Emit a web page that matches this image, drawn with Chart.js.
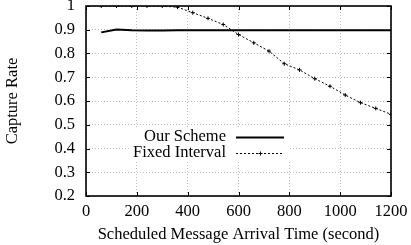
<!DOCTYPE html>
<html>
<head>
<meta charset="utf-8">
<script src="https://cdn.jsdelivr.net/npm/chart.js@4"></script>
<style>
html, body { margin: 0; padding: 0; background: #fff; }
#wrap { width: 411px; height: 245px; }
</style>
</head>
<body>
<div id="wrap"><canvas id="captureChart"></canvas></div>
<script>
// Datos
const arrivalTimes = [60, 120, 180, 240, 300, 360, 420, 480, 540, 600, 660, 720, 780, 840, 900, 960, 1020, 1080, 1140, 1200];
const ourScheme = [0.889, 0.901, 0.898, 0.897, 0.897, 0.898, 0.898, 0.898, 0.898, 0.898, 0.898, 0.898, 0.898, 0.898, 0.898, 0.898, 0.898, 0.898, 0.898, 0.898];
const fixedInterval = [1, 1, 1, 1, 1, 0.995, 0.972, 0.948, 0.922, 0.88, 0.845, 0.81, 0.757, 0.731, 0.694, 0.662, 0.625, 0.593, 0.569, 0.544];
const xTicks = [0, 200, 400, 600, 800, 1000, 1200];
const yTicks = [0.2, 0.3, 0.4, 0.5, 0.6, 0.7, 0.8, 0.9, 1];

const FONT = "'Liberation Serif', 'Times New Roman', serif";
const FSIZE = 16.5;

// marco, marcas hacia dentro y leyenda estilo gnuplot
const framePlugin = {
    id: 'frame',
    afterDatasetsDraw(chart) {
        const ctx = chart.ctx;
        const a = chart.chartArea;
        const xs = chart.scales.x, ys = chart.scales.y;
        ctx.save();
        ctx.strokeStyle = '#000';
        ctx.lineWidth = 1;
        ctx.beginPath();
        xTicks.forEach(v => {
            const px = Math.round(xs.getPixelForValue(v)) + 0.5;
            ctx.moveTo(px, a.bottom); ctx.lineTo(px, a.bottom - 4);
            ctx.moveTo(px, a.top); ctx.lineTo(px, a.top + 4);
        });
        yTicks.forEach(v => {
            const py = Math.round(ys.getPixelForValue(v)) + 0.5;
            ctx.moveTo(a.left, py); ctx.lineTo(a.left + 4, py);
            ctx.moveTo(a.right, py); ctx.lineTo(a.right - 4, py);
        });
        ctx.stroke();
        ctx.lineWidth = 1.6;
        ctx.strokeRect(a.left, a.top, a.right - a.left, a.bottom - a.top);

        // leyenda
        const textRight = a.left + 140;
        const lineL = a.left + 150, lineR = a.left + 198;
        const rows = [a.top + 131, a.top + 147];
        ctx.fillStyle = '#fff';
        ctx.fillRect(a.left + 44, rows[0] - 9, 160, 34);
        ctx.font = FSIZE + 'px ' + FONT;
        ctx.textAlign = 'right';
        ctx.textBaseline = 'middle';
        chart.data.datasets.forEach((ds, i) => {
            const y = rows[i];
            ctx.fillStyle = '#000';
            ctx.fillText(ds.label, textRight, y);
            ctx.strokeStyle = ds.borderColor;
            ctx.lineWidth = ds.borderWidth;
            ctx.setLineDash(ds.borderDash || []);
            ctx.beginPath();
            ctx.moveTo(lineL, y + 0.5); ctx.lineTo(lineR, y + 0.5);
            ctx.stroke();
            ctx.setLineDash([]);
            if (ds.pointRadius > 0) {
                const mx = (lineL + lineR) / 2 + 0.5;
                ctx.lineWidth = 1;
                ctx.beginPath();
                ctx.moveTo(mx - 2, y + 0.5); ctx.lineTo(mx + 2, y + 0.5);
                ctx.moveTo(mx, y - 1.5); ctx.lineTo(mx, y + 2.5);
                ctx.stroke();
            }
        });
        ctx.restore();
    }
};

const captureChart = new Chart(document.getElementById('captureChart'), {
    type: 'line',
    data: {
        labels: arrivalTimes,
        datasets: [{
            label: 'Our Scheme',
            data: ourScheme,
            borderColor: '#000',
            borderWidth: 2,
            pointRadius: 0,
            tension: 0
        }, {
            label: 'Fixed Interval',
            data: fixedInterval,
            borderColor: '#000',
            borderWidth: 1,
            borderDash: [2, 2],
            pointStyle: 'cross',
            pointRadius: 2,
            pointBorderColor: '#000',
            pointBorderWidth: 1,
            tension: 0
        }]
    },
    options: {
        responsive: true,
        maintainAspectRatio: false,
        animation: false,
        layout: { padding: { top: 6, right: 20, left: 0, bottom: 0 } },
        plugins: {
            legend: { display: false },
            tooltip: { enabled: false }
        },
        scales: {
            x: {
                type: 'linear',
                min: 0,
                max: 1200,
                afterBuildTicks: s => { s.ticks = xTicks.map(v => ({ value: v })); },
                afterFit: s => { s.height = 49; s.paddingLeft = 0; s.paddingRight = 0; },
                grid: { color: '#bbb', lineWidth: 1, drawTicks: false },
                border: { display: false, dash: [1, 2] },
                ticks: { color: '#000', padding: 6, maxRotation: 0, autoSkip: false, font: { family: FONT, size: FSIZE }, callback: v => String(v) },
                title: { display: true, text: 'Scheduled Message Arrival Time (second)', color: '#000', padding: { top: 2, bottom: 0 }, font: { family: FONT, size: FSIZE } }
            },
            y: {
                min: 0.2,
                max: 1,
                afterBuildTicks: s => { s.ticks = yTicks.map(v => ({ value: v })); },
                afterFit: s => { s.width = 86; s.paddingTop = 0; s.paddingBottom = 0; },
                grid: { color: '#bbb', lineWidth: 1, drawTicks: false },
                border: { display: false, dash: [1, 2] },
                ticks: { color: '#000', padding: 11, autoSkip: false, font: { family: FONT, size: FSIZE }, callback: v => String(Number(v.toFixed(1))) },
                title: { display: true, text: 'Capture Rate', color: '#000', padding: { top: 3, bottom: 0 }, font: { family: FONT, size: FSIZE } }
            }
        }
    },
    plugins: [framePlugin]
});
</script>
</body>
</html>
